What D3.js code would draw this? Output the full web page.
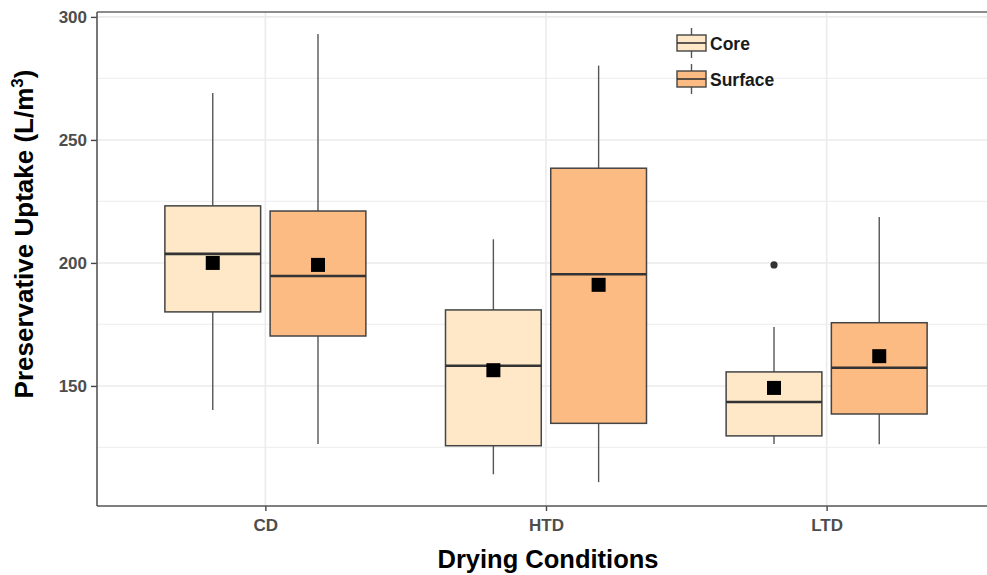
<!DOCTYPE html>
<html>
<head>
<meta charset="utf-8">
<script src="https://cdn.jsdelivr.net/npm/d3@7"></script>
<style>
  html, body { margin: 0; padding: 0; background: #fff; }
  svg { display: block; font-family: "Liberation Sans", Arial, sans-serif; }
</style>
</head>
<body>
<svg id="chart" width="987" height="575"></svg>
<script>
// ---- Data ----
const categories = ["CD", "HTD", "LTD"];
const seriesNames = ["Core", "Surface"];

const coreLower  = [140.2, 114.1, 126.4];
const coreQ1     = [180.1, 125.7, 129.7];
const coreMedian = [203.7, 158.2, 143.5];
const coreQ3     = [223.2, 180.9, 155.7];
const coreUpper  = [269.1, 209.6, 174.0];
const coreMean   = [200.0, 156.4, 149.2];
const coreOutliers = [[], [], [199.2]];

const surfLower  = [126.4, 110.9, 126.3];
const surfQ1     = [170.3, 134.8, 138.6];
const surfMedian = [194.7, 195.4, 157.4];
const surfQ3     = [221.1, 238.5, 175.7];
const surfUpper  = [293.1, 280.2, 218.7];
const surfMean   = [199.2, 191.1, 162.1];
const surfOutliers = [[], [], []];

const yMajorTicks = [150, 200, 250, 300];
const yMinorTicks = [125, 175, 225, 275];

const fills = { Core: "#FEE8C8", Surface: "#FDBB84" };

// ---- Layout ----
const svg = d3.select("#chart");
const panel = { left: 97, top: 12, right: 995, bottom: 506 };

const x = d3.scalePoint().domain(categories).range([panel.left, panel.right]).padding(0.6);
const y = d3.scaleLinear().domain([101.2, 302.0]).range([panel.bottom, panel.top]);
const step = x.step();
const dodge = d3.scaleBand().domain(seriesNames).range([-0.375 * step, 0.375 * step]).paddingInner(0.09).paddingOuter(0.045);
const boxW = dodge.bandwidth();

const rows = [];
seriesNames.forEach(s => {
  const src = s === "Core"
    ? [coreLower, coreQ1, coreMedian, coreQ3, coreUpper, coreMean, coreOutliers]
    : [surfLower, surfQ1, surfMedian, surfQ3, surfUpper, surfMean, surfOutliers];
  categories.forEach((c, i) => {
    rows.push({ series: s, cat: c, lo: src[0][i], q1: src[1][i], med: src[2][i], q3: src[3][i], hi: src[4][i], mean: src[5][i], out: src[6][i] });
  });
});

svg.append("defs").append("clipPath").attr("id", "pclip")
  .append("rect").attr("x", panel.left).attr("y", panel.top)
  .attr("width", panel.right - panel.left).attr("height", panel.bottom - panel.top);

const g = svg.append("g").attr("clip-path", "url(#pclip)");

// grid
g.selectAll(".minor").data(yMinorTicks).join("line")
  .attr("x1", panel.left).attr("x2", panel.right)
  .attr("y1", d => y(d)).attr("y2", d => y(d))
  .attr("stroke", "#F0F0F0").attr("stroke-width", 1.2);
g.selectAll(".major").data(yMajorTicks).join("line")
  .attr("x1", panel.left).attr("x2", panel.right)
  .attr("y1", d => y(d)).attr("y2", d => y(d))
  .attr("stroke", "#EBEBEB").attr("stroke-width", 1.6);
g.selectAll(".vmajor").data(categories).join("line")
  .attr("x1", d => x(d)).attr("x2", d => x(d))
  .attr("y1", panel.top).attr("y2", panel.bottom)
  .attr("stroke", "#EBEBEB").attr("stroke-width", 1.6);

// boxes
const bx = d => x(d.cat) + dodge(d.series);
const cx = d => bx(d) + boxW / 2;

const boxes = g.selectAll(".box").data(rows).join("g");
boxes.append("line").attr("x1", cx).attr("x2", cx)
  .attr("y1", d => y(d.hi)).attr("y2", d => y(d.q3))
  .attr("stroke", "#555").attr("stroke-width", 1.4);
boxes.append("line").attr("x1", cx).attr("x2", cx)
  .attr("y1", d => y(d.q1)).attr("y2", d => y(d.lo))
  .attr("stroke", "#555").attr("stroke-width", 1.4);
boxes.append("rect").attr("x", bx).attr("width", boxW)
  .attr("y", d => y(d.q3)).attr("height", d => y(d.q1) - y(d.q3))
  .attr("fill", d => fills[d.series]).attr("stroke", "#444").attr("stroke-width", 1.5);
boxes.append("line").attr("x1", bx).attr("x2", d => bx(d) + boxW)
  .attr("y1", d => y(d.med)).attr("y2", d => y(d.med))
  .attr("stroke", "#333").attr("stroke-width", 2.6);
boxes.selectAll("circle").data(d => d.out.map(v => ({ v, d }))).join("circle")
  .attr("cx", o => cx(o.d)).attr("cy", o => y(o.v)).attr("r", 3.6).attr("fill", "#333");
boxes.append("rect")
  .attr("x", d => cx(d) - 7).attr("y", d => y(d.mean) - 7)
  .attr("width", 14).attr("height", 14).attr("fill", "#000");

// axes
const yAxis = d3.axisLeft(y).tickValues(yMajorTicks).tickSize(6).tickPadding(4);
const ya = svg.append("g").attr("transform", `translate(${panel.left},0)`).call(yAxis);
ya.select(".domain").remove();
ya.selectAll(".tick line").attr("stroke", "#444").attr("stroke-width", 1.4);
ya.selectAll(".tick text").attr("fill", "#4D4D4D").attr("font-size", 17).attr("font-weight", "bold")
  .attr("font-family", "Liberation Sans, Arial, sans-serif");

const xAxis = d3.axisBottom(x).tickSize(5).tickPadding(8);
const xa = svg.append("g").attr("transform", `translate(0,${panel.bottom})`).call(xAxis);
xa.select(".domain").remove();
xa.selectAll(".tick line").attr("stroke", "#444").attr("stroke-width", 1.4);
xa.selectAll(".tick text").attr("fill", "#4D4D4D").attr("font-size", 17).attr("font-weight", "bold")
  .attr("font-family", "Liberation Sans, Arial, sans-serif");

// panel border lines
svg.append("line").attr("x1", panel.left).attr("x2", 987).attr("y1", panel.top).attr("y2", panel.top)
  .attr("stroke", "#666").attr("stroke-width", 1.6);
svg.append("line").attr("x1", panel.left).attr("x2", panel.left).attr("y1", panel.top).attr("y2", panel.bottom)
  .attr("stroke", "#555").attr("stroke-width", 1.6);
svg.append("line").attr("x1", panel.left).attr("x2", 987).attr("y1", panel.bottom).attr("y2", panel.bottom)
  .attr("stroke", "#555").attr("stroke-width", 1.6);

// titles
svg.append("text").attr("x", 548).attr("y", 568).attr("text-anchor", "middle")
  .attr("font-size", 25.5).attr("font-weight", "bold").attr("fill", "#000")
  .text("Drying Conditions");
const yt = svg.append("text").attr("transform", "translate(33,234) rotate(-90)").attr("text-anchor", "middle")
  .attr("font-size", 26).attr("font-weight", "bold").attr("fill", "#000");
yt.append("tspan").text("Preservative Uptake (L/m");
yt.append("tspan").attr("font-size", 17).attr("dy", -10).text("3");
yt.append("tspan").attr("dy", 10).text(")");

// legend
const legend = svg.append("g");
const keyX = 677, keyW = 29, keyH = 16;
const keyYs = [35, 71];
seriesNames.forEach((s, i) => {
  const k = legend.append("g");
  const ky = keyYs[i];
  k.append("line").attr("x1", keyX + keyW / 2).attr("x2", keyX + keyW / 2)
    .attr("y1", ky - 7).attr("y2", ky + keyH + 7).attr("stroke", "#555").attr("stroke-width", 1.4);
  k.append("rect").attr("x", keyX).attr("y", ky).attr("width", keyW).attr("height", keyH)
    .attr("fill", fills[s]).attr("stroke", "#444").attr("stroke-width", 1.4);
  k.append("line").attr("x1", keyX).attr("x2", keyX + keyW)
    .attr("y1", ky + keyH / 2).attr("y2", ky + keyH / 2).attr("stroke", "#333").attr("stroke-width", 1.6);
  k.append("text").attr("x", keyX + keyW + 4).attr("y", ky + keyH / 2 + 7)
    .attr("font-size", 17.5).attr("font-weight", "bold").attr("fill", "#1a1a1a").text(s);
});
</script>
</body>
</html>
